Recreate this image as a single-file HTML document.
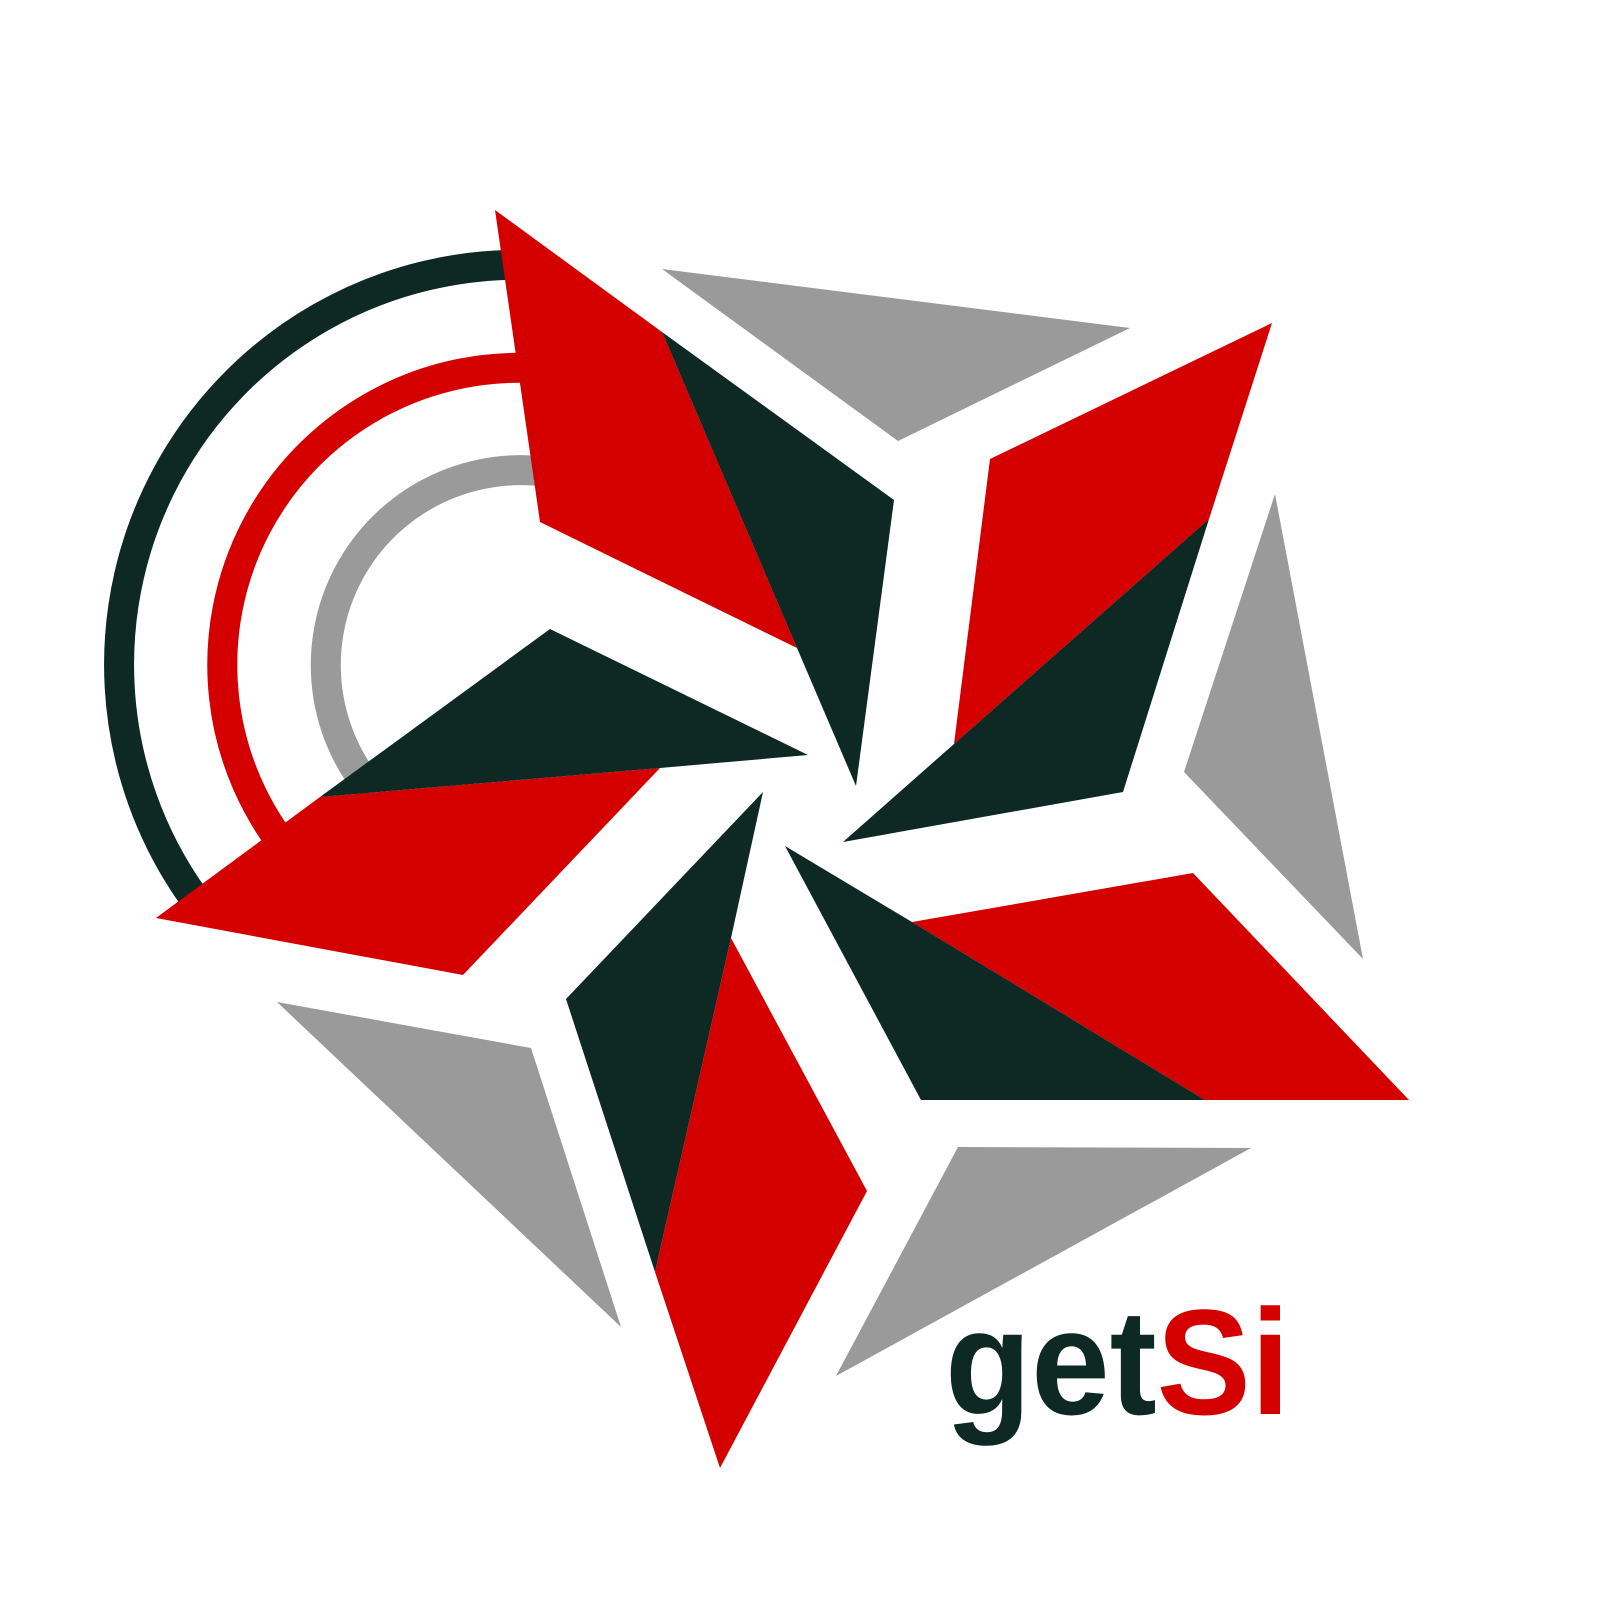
<!DOCTYPE html>
<html><head><meta charset="utf-8"><style>html,body{margin:0;padding:0;background:#fff}svg{display:block}</style></head>
<body>
<svg width="1600" height="1600" viewBox="0 0 1600 1600" xmlns="http://www.w3.org/2000/svg">
<rect width="1600" height="1600" fill="#fff"/>
<g fill="none" stroke-width="30">
<path d="M534 265 A400 400 0 0 0 192 895" stroke="#0e2823"/>
<path d="M546 369 A297 297 0 0 0 292 856" stroke="#d40000"/>
<path d="M554 473 A195 195 0 0 0 371 790" stroke="#9a9a9a"/>
</g>
<g>
<polygon points="495,210 662,332 797,648 540,522" fill="#d40000"/>
<polygon points="662,332 894,500 856,786 797,648" fill="#0e2823"/>
<polygon points="662,269 1130,328 898,441" fill="#9a9a9a"/>
<polygon points="990,459 1272,323 1209,519 954,744" fill="#d40000"/>
<polygon points="1209,519 1123,792 843,842 954,744" fill="#0e2823"/>
<polygon points="1275,494 1363,959 1184,772" fill="#9a9a9a"/>
<polygon points="912,922 1193,873 1409,1100 1205,1100" fill="#d40000"/>
<polygon points="785,846 912,922 1205,1100 921,1100" fill="#0e2823"/>
<polygon points="958,1147 1251,1148 836,1376" fill="#9a9a9a"/>
<polygon points="763,792 731,938 655,1272 566,999" fill="#0e2823"/>
<polygon points="731,938 867,1191 720,1468 655,1272" fill="#d40000"/>
<polygon points="277,1002 531,1048 621,1327" fill="#9a9a9a"/>
<polygon points="320,797 660,768 463,975 156,918" fill="#d40000"/>
<polygon points="550,629 808,755 660,768 320,797" fill="#0e2823"/>
</g>
<text x="945" y="1414" font-family="Liberation Sans, sans-serif" font-weight="bold" font-size="150" textLength="345" lengthAdjust="spacingAndGlyphs"><tspan fill="#0e2823">get</tspan><tspan fill="#d40000">Si</tspan></text>
</svg>
</body></html>
